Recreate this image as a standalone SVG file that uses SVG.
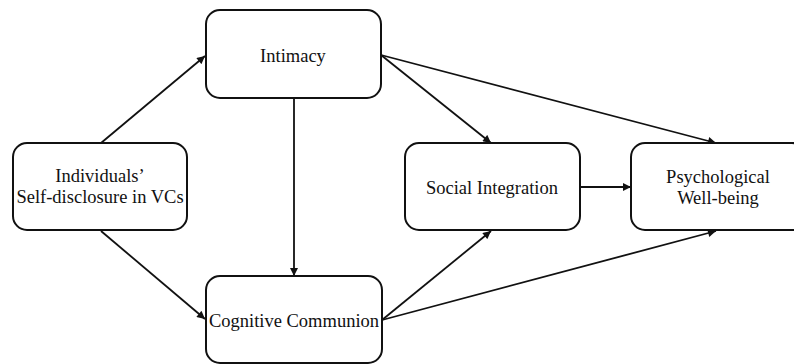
<svg xmlns="http://www.w3.org/2000/svg" width="794" height="364" viewBox="0 0 794 364">
<style>
.box{fill:#fff;stroke:#111;stroke-width:2}
.lbl{font-family:"Liberation Serif","Times New Roman",serif;font-size:18.5px;fill:#111;text-anchor:middle}
.edge{stroke:#111;stroke-width:1.8;fill:none;marker-end:url(#ah)}
</style>
<defs>
<marker id="ah" viewBox="0 0 10 10" refX="10" refY="5" markerWidth="9" markerHeight="8" markerUnits="userSpaceOnUse" orient="auto">
<path d="M0,0 L10,5 L0,10 z" fill="#111"/>
</marker>
</defs>
<rect width="794" height="364" fill="#fff"/>
<g id="connectors">
<line class="edge" x1="101" y1="143" x2="205" y2="56"/>
<line class="edge" x1="101" y1="231" x2="205" y2="319"/>
<line class="edge" x1="294" y1="98" x2="294" y2="276"/>
<line class="edge" x1="381" y1="55" x2="491" y2="143"/>
<line class="edge" x1="381" y1="55" x2="716" y2="143"/>
<line class="edge" x1="382" y1="320" x2="491" y2="231"/>
<line class="edge" x1="382" y1="320" x2="716" y2="231"/>
<line class="edge" x1="580" y1="187" x2="631" y2="187"/>
</g>
<g id="intimacy">
<rect class="box" x="206" y="10" width="175" height="88" rx="14"/>
<text class="lbl" x="293" y="62">Intimacy</text>
</g>
<g id="individuals">
<rect class="box" x="13" y="143" width="174" height="87" rx="14"/>
<text class="lbl" x="100" y="182">Individuals’</text>
<text class="lbl" x="100" y="203">Self-disclosure in VCs</text>
</g>
<g id="cognitive">
<rect class="box" x="206" y="276" width="176" height="87" rx="14"/>
<text class="lbl" x="294" y="327">Cognitive Communion</text>
</g>
<g id="social">
<rect class="box" x="405" y="143" width="175" height="87" rx="14"/>
<text class="lbl" x="492" y="194">Social Integration</text>
</g>
<g id="psych">
<rect class="box" x="631" y="143" width="175" height="87" rx="14"/>
<text class="lbl" x="718" y="183">Psychological</text>
<text class="lbl" x="718" y="204">Well-being</text>
</g>
</svg>
